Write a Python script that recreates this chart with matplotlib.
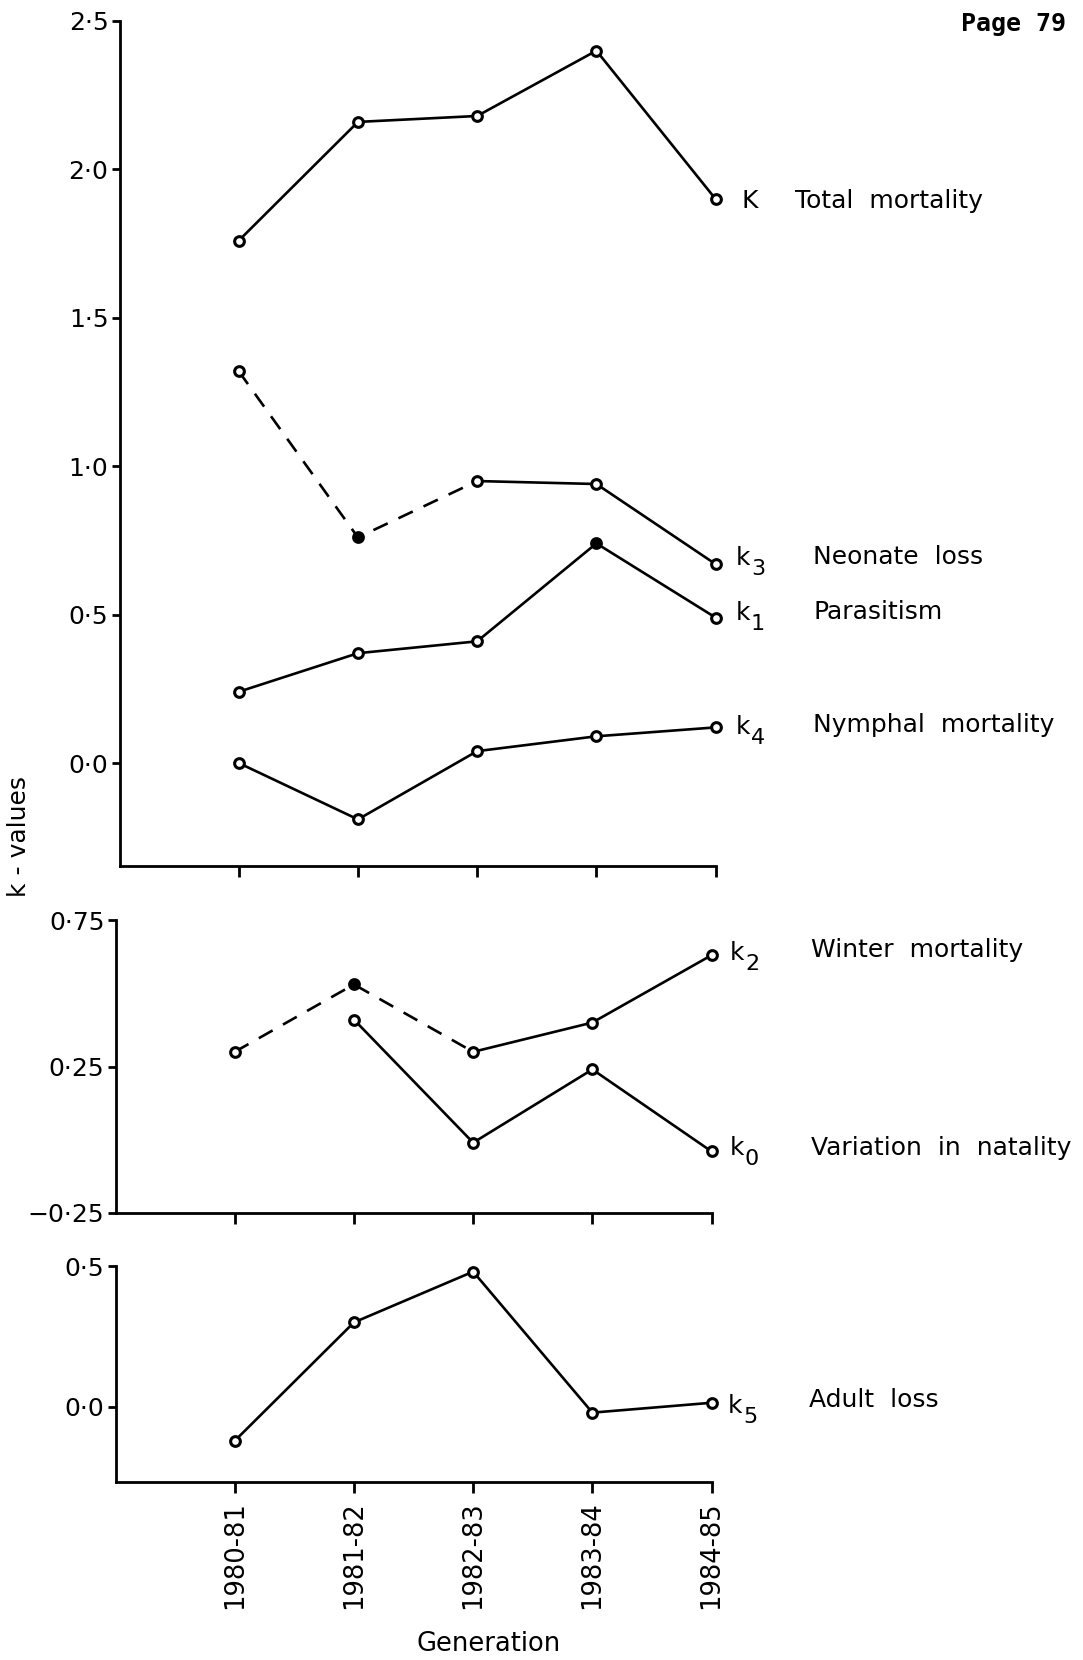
import numpy as np
from matplotlib import pyplot as plt

# generations on the x axis
gens = ['1980-81', '1981-82', '1982-83', '1983-84', '1984-85']

# k-values
K_total = [1.76, 2.16, 2.18, 2.40, 1.90]
k3_neonate = [1.32, 0.76, 0.95, 0.94, 0.67]
k1_parasitism = [0.24, 0.37, 0.41, 0.74, 0.49]
k4_nymphal = [0.00, -0.19, 0.04, 0.09, 0.12]
k2_winter = [0.30, 0.53, 0.30, 0.40, 0.63]
k0_natality = [np.nan, 0.41, -0.01, 0.24, -0.04]
k5_adult = [-0.12, 0.30, 0.48, -0.02, 0.015]

top_ticks = [0.0, 0.5, 1.0, 1.5, 2.0, 2.5]
top_labels = ['0·0', '0·5', '1·0', '1·5', '2·0', '2·5']
mid_ticks = [-0.25, 0.25, 0.75]
mid_labels = ['\u22120·25', '0·25', '0·75']
bot_ticks = [0.0, 0.5]
bot_labels = ['0·0', '0·5']

W, H = 1083, 1660
plt.rcParams['font.family'] = ['DejaVu Sans']
fig = plt.figure(figsize=(W / 100, H / 100), dpi=100)
fig.patch.set_facecolor('white')


def box(left, top, right, bottom):
    return [left / W, 1 - bottom / H, (right - left) / W, (bottom - top) / H]


def style(ax, ylim, ticks, labels):
    ax.set_xlim(-1, 4)
    ax.set_ylim(*ylim)
    for s in ['top', 'right']:
        ax.spines[s].set_visible(False)
    for s in ['left', 'bottom']:
        ax.spines[s].set_linewidth(2.0)
    ax.set_yticks(ticks)
    ax.set_yticklabels(labels, fontsize=18)
    ax.set_xticks(range(len(gens)))
    ax.set_xticklabels([])
    ax.tick_params(axis='y', direction='out', length=6, width=2.0, pad=2)
    ax.tick_params(axis='x', direction='out', length=8, width=2.0)


def series(ax, vals, dashed_upto=0, filled=()):
    x = np.arange(len(vals))
    v = np.array(vals, dtype=float)
    if dashed_upto:
        ax.plot(x[:dashed_upto + 1], v[:dashed_upto + 1], color='black', lw=1.9,
                dashes=(6, 4.5), clip_on=False, zorder=2)
        ax.plot(x[dashed_upto:], v[dashed_upto:], color='black', lw=1.9,
                clip_on=False, zorder=2)
    else:
        ax.plot(x, v, color='black', lw=1.9, clip_on=False, zorder=2)
    for i in range(len(v)):
        if np.isnan(v[i]):
            continue
        fc = 'black' if i in filled else 'white'
        ax.plot(x[i], v[i], marker='o', ms=7, mew=2.2, mfc=fc, mec='black',
                clip_on=False, zorder=3)


ax1 = fig.add_axes(box(119.5, 21, 715.6, 866))
style(ax1, (-0.347, 2.5), top_ticks, top_labels)
series(ax1, K_total)
series(ax1, k3_neonate, dashed_upto=2, filled=(1,))
series(ax1, k1_parasitism, filled=(3,))
series(ax1, k4_nymphal)

ax2 = fig.add_axes(box(115.5, 920, 711.6, 1213))
style(ax2, (-0.25, 0.75), mid_ticks, mid_labels)
series(ax2, k2_winter, dashed_upto=2, filled=(1,))
series(ax2, k0_natality)

ax3 = fig.add_axes(box(115.5, 1266, 711.6, 1482))
style(ax3, (-0.266, 0.5), bot_ticks, bot_labels)
series(ax3, k5_adult)
ax3.set_xticklabels(gens, rotation=90, fontsize=18.5)
ax3.tick_params(axis='x', pad=6)


def label(x, y, s, **kw):
    fig.text(x / W, 1 - y / H, s, va='center', **kw)


def klabel(x, y, sub):
    label(x, y, 'k', fontsize=18)
    label(x + 15, y + 11, sub, fontsize=16)


lab_size = 18
label(741, 201, 'K', fontsize=lab_size)
label(795, 201, 'Total  mortality', fontsize=lab_size)
klabel(736, 558, '3')
label(813, 557, 'Neonate  loss', fontsize=lab_size)
klabel(736, 613, '1')
label(813, 612, 'Parasitism', fontsize=lab_size)
klabel(736, 727, '4')
label(813, 725, 'Nymphal  mortality', fontsize=lab_size)
klabel(730, 953, '2')
label(811, 950, 'Winter  mortality', fontsize=lab_size)
klabel(730, 1148, '0')
label(811, 1148, 'Variation  in  natality', fontsize=lab_size)
klabel(728, 1406, '5')
label(809, 1400, 'Adult  loss', fontsize=lab_size)

label(19, 836, 'k - values', fontsize=18, rotation=90, ha='center')
label(489, 1644, 'Generation', fontsize=18.5, ha='center')
label(1066, 24, 'Page 79', fontsize=18, ha='right', fontweight='bold',
      family='DejaVu Sans Mono')

fig.savefig('out.png', dpi=100, facecolor='white')
